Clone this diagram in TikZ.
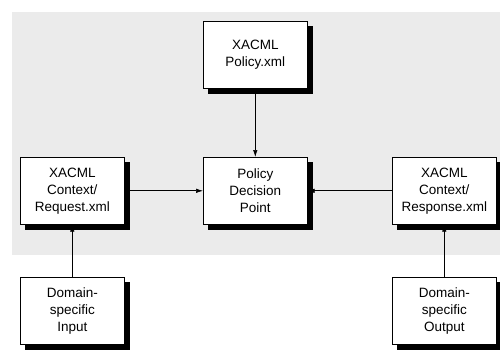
\documentclass[tikz,border=0pt]{standalone}
\usepackage{fontspec}
\setmainfont{Liberation Sans}
\usetikzlibrary{arrows.meta}
\definecolor{panel}{HTML}{EBEBEB}
\begin{document}
\begin{tikzpicture}[x=1pt,y=-1pt,
  box/.style={draw=black,line width=0.6pt,fill=white,minimum width=104pt,minimum height=67pt,
    align=center,font=\fontsize{13.5}{17}\selectfont,inner sep=0pt,anchor=north west},
  shadowbox/.style={draw=black,fill=black,line width=0.6pt,minimum width=104pt,minimum height=67pt,
    inner sep=0pt,anchor=north west},
  conn/.style={draw=black,line width=0.7pt,-{Latex[length=7pt,width=4.5pt]}}]
\useasboundingbox (0,0) rectangle (500,349);
\fill[panel] (12,12) rectangle (500,255);
\node[shadowbox] (spol) at (208,26) {};
\node[shadowbox] (sreq) at (25,162) {};
\node[shadowbox] (spdp) at (208,162) {};
\node[shadowbox] (sres) at (397,162) {};
\node[shadowbox] (sinp) at (25,282) {};
\node[shadowbox] (sout) at (397,282) {};
\node[box] (pol) at (203,21) {XACML\\Policy.xml};
\node[box] (req) at (20,157) {XACML\\Context/\\Request.xml};
\node[box] (pdp) at (203,157) {Policy\\Decision\\Point};
\node[box] (res) at (392,157) {XACML\\Context/\\Response.xml};
\node[box] (inp) at (20,277) {Domain-\\specific\\Input};
\node[box] (out) at (392,277) {Domain-\\specific\\Output};
\draw[conn] (pol.south) -- (pdp.north);
\draw[conn] (req.east) -- (pdp.west);
\draw[conn] (res.west) -- (pdp.east);
\draw[conn] (inp.north) -- (req.south);
\draw[conn] (out.north) -- (res.south);
\end{tikzpicture}
\end{document}
